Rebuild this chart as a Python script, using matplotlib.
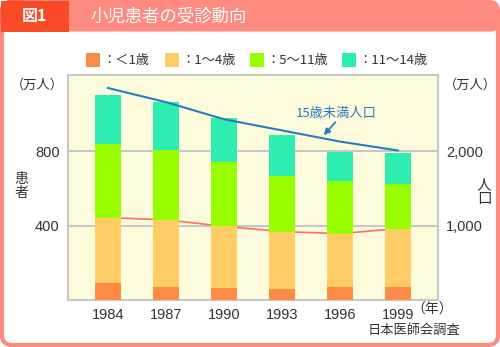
import matplotlib
matplotlib.use("Agg")
from matplotlib import pyplot as plt
from matplotlib.patches import FancyBboxPatch, Rectangle
import numpy as np

plt.rcParams['font.family'] = ['Noto Sans CJK JP', 'DejaVu Sans']
num_font = ['Liberation Sans', 'Noto Sans CJK JP']

years = ["1984", "1987", "1990", "1993", "1996", "1999"]
under1 = [90, 72, 65, 58, 69, 69]
age1_4 = [353, 359, 331, 310, 288, 315]
age5_11 = [395, 374, 345, 301, 281, 238]
age11_14 = [263, 262, 239, 217, 158, 167]
population = [2850, 2660, 2430, 2280, 2130, 2010]

labels = ["：＜1歳", "：1〜4歳", "：5〜11歳", "：11〜14歳"]
colors = ["#FF8A45", "#FFCC66", "#99FF00", "#2EEDB0"]

W, H = 500, 347
fig = plt.figure(figsize=(W / 100, H / 100), dpi=100)
fig.patch.set_facecolor("white")

# background frame drawn in pixel coordinates
bg = fig.add_axes([0, 0, 1, 1], zorder=0)
bg.set_xlim(0, W)
bg.set_ylim(H, 0)
bg.axis("off")
bg.add_patch(FancyBboxPatch((2, 2), W - 4, H - 4, boxstyle="round,pad=0,rounding_size=10",
                            facecolor="white", edgecolor="#FF8A80", linewidth=3))
bg.add_patch(FancyBboxPatch((0.5, 0.5), W - 1, 31, boxstyle="round,pad=0,rounding_size=9",
                            facecolor="#FF8A80", edgecolor="none"))
bg.add_patch(Rectangle((0.5, 0.5), 68, 31, facecolor="#FA4A28", edgecolor="none"))
bg.add_patch(FancyBboxPatch((0.5, 0.5), 30, 31, boxstyle="round,pad=0,rounding_size=9",
                            facecolor="#FA4A28", edgecolor="none"))
bg.text(34, 16, "図1", color="white", fontsize=11.5, ha="center", va="center", fontweight="bold")
bg.text(90, 16, "小児患者の受診動向", color="white", fontsize=12.5, ha="left", va="center")

# legend
leg_x = [86, 165, 250, 342]
for x, lab, c in zip(leg_x, labels, colors):
    bg.add_patch(Rectangle((x, 53), 14, 14, facecolor=c, edgecolor="none"))
    bg.text(x + 16, 60, lab, fontsize=9.5, ha="left", va="center", color="#333333")

bg.text(37, 85, "（万人）", fontsize=9.5, ha="center", va="center", color="#333333")
bg.text(470, 85, "（万人）", fontsize=9.5, ha="center", va="center", color="#333333")
bg.text(21, 186, "患\n者", fontsize=10, ha="center", va="center", color="#333333", linespacing=1.0)
bg.text(484, 192, "人\n口", fontsize=10.5, ha="center", va="center", color="#333333", linespacing=1.0)
bg.text(432, 310, "（年）", fontsize=10, ha="center", va="center", color="#333333")
bg.text(460, 330, "日本医師会調査", fontsize=9.5, ha="right", va="center", color="#333333")

# main chart
ax = fig.add_axes([68 / W, (H - 300) / H, 370 / W, 225 / H], zorder=1)
ax.set_facecolor("#FCFCDC")
x = np.arange(len(years))
bottoms = np.zeros(len(years))
series = [under1, age1_4, age5_11, age11_14]
for vals, c in zip(series, colors):
    ax.bar(x, vals, 0.45, bottom=bottoms, color=c, zorder=3)
    bottoms = bottoms + np.array(vals)

cum_1_4 = np.array(under1) + np.array(age1_4)
ax.plot(x, cum_1_4, color="#FF7060", linewidth=1.2, zorder=2)

ax.set_xlim(-0.69, 5.69)
ax.set_ylim(0, 1210)
ax.set_yticks([400, 800])
ax.set_yticklabels(["400", "800"], family=num_font)
ax.yaxis.grid(True, color="#C8C8C8", linewidth=1.5, zorder=1)
ax.set_axisbelow(True)
ax.set_xticks(x)
ax.set_xticklabels(years, family=num_font)
ax.tick_params(length=0, labelsize=10.5, colors="#333333", pad=6)
for s in ax.spines.values():
    s.set_color("#C8C8C8")
    s.set_linewidth(1.5)

ax2 = ax.twinx()
ax2.set_ylim(0, 1210 * 2.5)
ax2.set_yticks([1000, 2000])
ax2.set_yticklabels(["1,000", "2,000"], family=num_font)
ax2.tick_params(length=0, labelsize=10.5, colors="#333333", pad=6)
for s in ax2.spines.values():
    s.set_visible(False)
ax2.plot(x, population, color="#2A7BC0", linewidth=1.5, zorder=4)
ax2.text(3.93, 2514, "15歳未満人口", fontsize=9.5, color="#2A7BC0", ha="center", va="center")
ax2.annotate("", xy=(3.72, 2216), xytext=(3.92, 2390),
             arrowprops=dict(arrowstyle="-|>", color="#2A7BC0", lw=1.3,
                             shrinkA=0, shrinkB=0, mutation_scale=9))

plt.savefig("out.png", dpi=100)
